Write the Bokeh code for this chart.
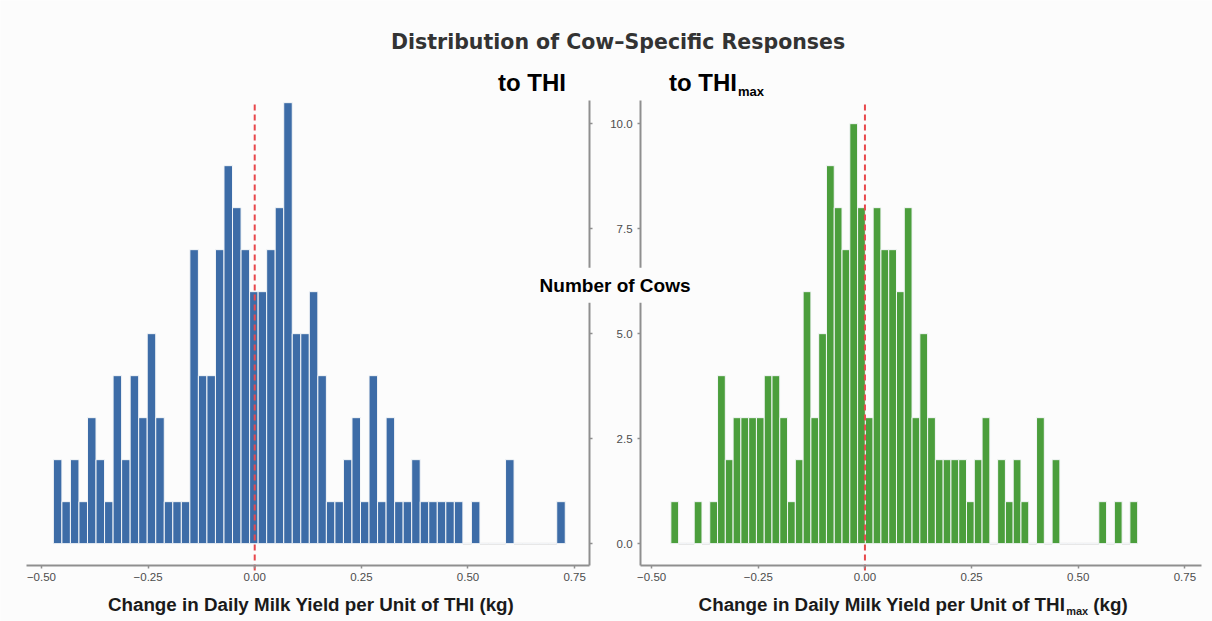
from bokeh.plotting import figure
from bokeh.models import (Range1d, LinearAxis, FixedTicker, CustomJSTickFormatter,
                          PrintfTickFormatter, Label, ColumnDataSource)
from bokeh.embed import file_html
from bokeh.resources import INLINE

# ---------------- data ----------------
TITLE = "Distribution of Cow\u2013Specific Responses"
SUBTITLE_LEFT = "to THI"
SUBTITLE_RIGHT = "to THI"
SUBSCRIPT = "max"
Y_TITLE = "Number of Cows"
X_TITLE_LEFT = "Change in Daily Milk Yield per Unit of THI (kg)"
X_TITLE_RIGHT_MAIN = "Change in Daily Milk Yield per Unit of THI"
X_TITLE_RIGHT_TAIL = "(kg)"

X_TICKS = [-0.5, -0.25, 0.0, 0.25, 0.5, 0.75]
Y_TICKS = [0.0, 2.5, 5.0, 7.5, 10.0]

# histogram of cow-specific responses to THI (60 bins)
THI_BIN_START = -0.472
THI_BIN_WIDTH = 0.02
THI_COUNTS = [2, 1, 2, 1, 3, 2, 1, 4, 2, 4, 3, 5, 3, 1, 1, 1, 7, 4, 4, 7,
              9, 8, 7, 6, 6, 7, 8, 10.5, 5, 5, 6, 4, 1, 1, 2, 3, 1, 4, 1, 3,
              1, 1, 2, 1, 1, 1, 1, 1, 0, 1, 0, 0, 0, 2, 0, 0, 0, 0, 0, 1]

# histogram of cow-specific responses to THImax (60 bins)
THIMAX_BIN_START = -0.455
THIMAX_BIN_WIDTH = 0.01824
THIMAX_COUNTS = [1, 0, 0, 1, 0, 1, 4, 2, 3, 3, 3, 3, 4, 4, 3, 1, 2, 6, 3, 5,
                 9, 8, 7, 10, 8, 3, 8, 7, 7, 6, 8, 3, 5, 3, 2, 2, 2, 2, 1, 2,
                 3, 0, 2, 1, 2, 1, 0, 3, 0, 2, 0, 0, 0, 0, 0, 1, 0, 1, 0, 1]

# ---------------- layout / style ----------------
W, H = 1212, 621
LEFT_LIM = (-0.535, 0.785)     # extent of left panel's x axis
RIGHT_LIM = (-0.526, 0.789)    # extent of right panel's x axis
MARGIN_L_PX, MARGIN_R_PX, GAP_PX = 26, 11, 51
Y_TOP = 10.55                  # top of panels
Y_AXIS = -0.52                 # where x axes sit
AXIS_PX_FROM_TOP = 565
KY = 42.0

BG = "#fcfcfc"
BLUE = "#3d6ca7"
GREEN = "#4b9e3c"
RED = "#e8474b"
AXIS_GRAY = "#8f8f8f"
TICK_TEXT = "#4d4d4d"
FONT = "Liberation Sans"

kx = (W - MARGIN_L_PX - MARGIN_R_PX - GAP_PX) / ((LEFT_LIM[1] - LEFT_LIM[0]) + (RIGHT_LIM[1] - RIGHT_LIM[0]))
x_left_range = Range1d(LEFT_LIM[0] - MARGIN_L_PX / kx, LEFT_LIM[0] + (W - MARGIN_L_PX) / kx)
x_right_range = Range1d(RIGHT_LIM[1] - (W - MARGIN_R_PX) / kx, RIGHT_LIM[1] + MARGIN_R_PX / kx)
y_range = Range1d(Y_AXIS - (H - AXIS_PX_FROM_TOP) / KY, Y_AXIS + AXIS_PX_FROM_TOP / KY)

p = figure(width=W, height=H, x_range=x_left_range, y_range=y_range,
           x_axis_location=None, y_axis_location=None,
           toolbar_location=None, output_backend="svg",
           min_border_left=0, min_border_right=0,
           min_border_top=0, min_border_bottom=0)
p.extra_x_ranges = {"right": x_right_range}
p.background_fill_color = BG
p.border_fill_color = BG
p.outline_line_color = None
p.grid.visible = False


def hist_source(start, width, counts):
    left = [start + i * width for i in range(len(counts))]
    right = [l + width for l in left]
    return ColumnDataSource(dict(left=left, right=right, top=counts))


def zero_source(start, width, counts):
    left = [start + i * width for i, c in enumerate(counts) if c == 0]
    right = [l + width for l in left]
    zero = [0] * len(left)
    return ColumnDataSource(dict(x0=left, x1=right, y=zero))


for start, width, counts, color, rname in [
        (THI_BIN_START, THI_BIN_WIDTH, THI_COUNTS, BLUE, "default"),
        (THIMAX_BIN_START, THIMAX_BIN_WIDTH, THIMAX_COUNTS, GREEN, "right")]:
    p.segment(x0="x0", y0="y", x1="x1", y1="y", source=zero_source(start, width, counts),
              line_color="#b8b8b8", line_width=1.5, x_range_name=rname)
    p.quad(left="left", right="right", bottom=0, top="top",
           source=hist_source(start, width, counts),
           fill_color=color, line_color="#f4f6f8", line_width=1, x_range_name=rname)
    p.segment(x0=[0], y0=[Y_AXIS - 0.12], x1=[0], y1=[Y_TOP],
              line_color=RED, line_width=2, line_dash="6 4", x_range_name=rname)


def style_axis(ax):
    ax.axis_line_color = AXIS_GRAY
    ax.axis_line_width = 2
    ax.major_tick_line_color = AXIS_GRAY
    ax.major_tick_line_width = 1.5
    ax.major_tick_out = 3
    ax.major_tick_in = 0
    ax.minor_tick_line_color = None
    ax.major_label_text_font = FONT
    ax.major_label_text_font_size = "11.5px"
    ax.major_label_text_color = TICK_TEXT


x_fmt = CustomJSTickFormatter(code="return (tick < 0 ? '\\u2212' : '') + Math.abs(tick).toFixed(2);")

for rname, lim in [("default", LEFT_LIM), ("right", RIGHT_LIM)]:
    ax = LinearAxis(x_range_name=rname, fixed_location=Y_AXIS, bounds=lim,
                    ticker=FixedTicker(ticks=X_TICKS), formatter=x_fmt,
                    major_label_standoff=4)
    style_axis(ax)
    p.add_layout(ax, "below")

# boundary axis of left panel (ticks only)
yl = LinearAxis(fixed_location=LEFT_LIM[1], bounds=(Y_AXIS, Y_TOP),
                ticker=FixedTicker(ticks=Y_TICKS),
                formatter=CustomJSTickFormatter(code="return '';"))
style_axis(yl)
p.add_layout(yl, "right")

# y axis of right panel with labels
yr = LinearAxis(x_range_name="right", fixed_location=RIGHT_LIM[0], bounds=(Y_AXIS, Y_TOP),
                ticker=FixedTicker(ticks=Y_TICKS), formatter=PrintfTickFormatter(format="%.1f"),
                major_label_standoff=5)
style_axis(yr)
p.add_layout(yr, "left")

# ---------------- texts ----------------
mid_x = LEFT_LIM[1] + (GAP_PX / 2) / kx

p.add_layout(Label(x=mid_x + 3 / kx, y=Y_TOP + 47 / KY, text=TITLE, text_align="center",
                   text_font="DejaVu Sans", text_font_style="bold", text_font_size="20.5px",
                   text_color="#333333"))

p.add_layout(Label(x=0.65, y=Y_TOP + 5 / KY, text=SUBTITLE_LEFT, text_align="center",
                   text_font=FONT, text_font_style="bold", text_font_size="24px",
                   text_color="black"))
p.add_layout(Label(x=-0.30, y=Y_TOP + 5 / KY, text=SUBTITLE_RIGHT, text_align="right",
                   text_font=FONT, text_font_style="bold", text_font_size="24px",
                   text_color="black", x_range_name="right"))
p.add_layout(Label(x=-0.30 + 1 / kx, y=Y_TOP + 2 / KY, text=SUBSCRIPT, text_align="left",
                   text_font=FONT, text_font_style="bold", text_font_size="13px",
                   text_color="black", x_range_name="right"))

p.add_layout(Label(x=mid_x, y=6.15, text=Y_TITLE, text_align="center", text_baseline="middle",
                   text_font=FONT, text_font_style="bold", text_font_size="19px",
                   text_color="black", background_fill_color=BG, padding=7))

x_title_y = Y_AXIS - 49 / KY
p.add_layout(Label(x=(LEFT_LIM[0] + LEFT_LIM[1]) / 2 + 3 / kx, y=x_title_y, text=X_TITLE_LEFT,
                   text_align="center", text_font=FONT, text_font_style="bold",
                   text_font_size="18.8px", text_color="#1a1a1a"))
thi_end = 0.4695
p.add_layout(Label(x=thi_end, y=x_title_y, text=X_TITLE_RIGHT_MAIN, text_align="right",
                   text_font=FONT, text_font_style="bold", text_font_size="18.8px",
                   text_color="#1a1a1a", x_range_name="right"))
p.add_layout(Label(x=thi_end + 1 / kx, y=x_title_y - 2.5 / KY, text=SUBSCRIPT, text_align="left",
                   text_font=FONT, text_font_style="bold", text_font_size="11px",
                   text_color="#1a1a1a", x_range_name="right"))
p.add_layout(Label(x=thi_end + 28 / kx, y=x_title_y, text=X_TITLE_RIGHT_TAIL, text_align="left",
                   text_font=FONT, text_font_style="bold", text_font_size="18.8px",
                   text_color="#1a1a1a", x_range_name="right"))

open("out.html", "w").write(file_html(p, INLINE))
